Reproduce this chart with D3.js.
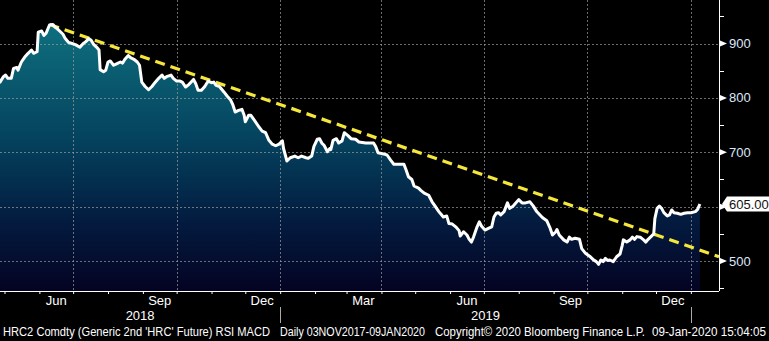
<!DOCTYPE html>
<html>
<head>
<meta charset="utf-8">
<script src="https://cdn.jsdelivr.net/npm/d3@7"></script>
<style>
  html, body { margin: 0; padding: 0; background: #000; }
  svg { display: block; }
  text { font-family: "Liberation Sans", Arial, sans-serif; }
</style>
</head>
<body>
<svg id="chart" width="769" height="341"></svg>
<script>
// HRC2 Comdty, daily closes (USD/short ton)
const dates = [
  "2018-04-24","2018-04-27","2018-04-30","2018-05-02","2018-05-04","2018-05-07","2018-05-09","2018-05-12","2018-05-13",
  "2018-05-16","2018-05-19","2018-05-22","2018-05-25","2018-05-27","2018-05-28","2018-05-30","2018-05-31",
  "2018-06-03","2018-06-05","2018-06-07","2018-06-10","2018-06-13","2018-06-15","2018-06-17","2018-06-19",
  "2018-06-22","2018-06-24","2018-06-27","2018-06-30","2018-07-03","2018-07-07","2018-07-10","2018-07-12",
  "2018-07-15","2018-07-17","2018-07-19","2018-07-22","2018-07-24","2018-07-25","2018-07-28","2018-07-30",
  "2018-08-01","2018-08-03","2018-08-06","2018-08-09","2018-08-12","2018-08-14","2018-08-16","2018-08-19",
  "2018-08-21","2018-08-24","2018-08-27","2018-08-29","2018-08-31","2018-09-03","2018-09-06","2018-09-09",
  "2018-09-12","2018-09-15","2018-09-18","2018-09-20","2018-09-22","2018-09-26","2018-09-28","2018-10-01",
  "2018-10-04","2018-10-06","2018-10-09","2018-10-12","2018-10-16","2018-10-18","2018-10-20","2018-10-23",
  "2018-10-26","2018-10-29","2018-11-01","2018-11-03","2018-11-05","2018-11-08","2018-11-12","2018-11-15",
  "2018-11-18","2018-11-20","2018-11-22","2018-11-25","2018-11-28","2018-11-30","2018-12-01","2018-12-04",
  "2018-12-06","2018-12-09","2018-12-13","2018-12-16","2018-12-19","2018-12-22","2018-12-25","2018-12-28",
  "2018-12-31","2019-01-03","2019-01-04","2019-01-07","2019-01-10","2019-01-14","2019-01-17","2019-01-20",
  "2019-01-24","2019-01-26","2019-01-29","2019-01-31","2019-02-03","2019-02-05","2019-02-07","2019-02-09",
  "2019-02-12","2019-02-14","2019-02-15","2019-02-17","2019-02-20","2019-02-22","2019-02-25","2019-02-27",
  "2019-03-02","2019-03-05","2019-03-09","2019-03-12","2019-03-18","2019-03-25","2019-03-27","2019-03-29",
  "2019-04-03","2019-04-06","2019-04-09","2019-04-12","2019-04-16","2019-04-21","2019-04-23","2019-04-25",
  "2019-04-28","2019-04-30","2019-05-04","2019-05-06","2019-05-09","2019-05-13","2019-05-16","2019-05-19",
  "2019-05-22","2019-05-24","2019-05-26","2019-05-29","2019-05-31","2019-06-03","2019-06-06","2019-06-09",
  "2019-06-10","2019-06-13","2019-06-16","2019-06-18","2019-06-20","2019-06-22","2019-06-25","2019-06-27",
  "2019-06-29","2019-07-02","2019-07-05","2019-07-08","2019-07-10","2019-07-12","2019-07-14","2019-07-16",
  "2019-07-19","2019-07-22","2019-07-24","2019-07-27","2019-07-29","2019-08-01","2019-08-04","2019-08-07",
  "2019-08-11","2019-08-14","2019-08-17","2019-08-22","2019-08-26","2019-08-29","2019-08-31","2019-09-03",
  "2019-09-04","2019-09-06","2019-09-10","2019-09-13","2019-09-15","2019-09-17","2019-09-20","2019-09-24",
  "2019-09-26","2019-09-29","2019-10-03","2019-10-06","2019-10-09","2019-10-11","2019-10-13","2019-10-15",
  "2019-10-17","2019-10-19","2019-10-21","2019-10-24","2019-10-27","2019-10-30","2019-11-01","2019-11-02",
  "2019-11-05","2019-11-08","2019-11-10","2019-11-12","2019-11-14","2019-11-17","2019-11-20","2019-11-22",
  "2019-11-24","2019-11-27","2019-11-29","2019-11-30","2019-12-02","2019-12-04","2019-12-06","2019-12-08",
  "2019-12-11","2019-12-13","2019-12-15","2019-12-17","2019-12-20","2019-12-23","2019-12-26","2019-12-29",
  "2020-01-01","2020-01-05","2020-01-07","2020-01-09"
];
const prices = [
  829,829,839,842,836,836,854,856,851,
  866,875,882,888,882,883,885,921,
  923,915,919,934,935,930,927,923,
  917,909,902,900,898,893,900,903,
  909,906,899,893,888,852,848,851,
  866,868,860,863,866,864,871,878,
  874,871,866,860,829,821,815,821,
  829,836,842,836,839,842,836,831,
  831,829,820,825,834,826,814,814,
  821,831,828,829,823,821,811,803,
  796,787,774,777,779,768,756,768,
  768,759,747,739,736,722,715,712,
  715,721,707,684,690,693,690,693,
  690,689,693,711,724,725,717,713,
  701,707,705,722,725,717,721,736,
  731,725,724,719,717,717,710,699,
  697,695,686,678,678,678,667,655,
  650,638,634,630,625,621,609,600,
  591,586,581,583,569,568,563,556,
  546,554,548,540,535,545,563,572,
  564,557,560,563,581,588,589,585,
  591,607,597,601,606,613,607,607,
  609,601,591,580,574,560,548,554,
  558,548,539,535,544,540,542,540,
  523,515,509,503,499,494,502,499,
  505,501,502,499,508,513,529,539,
  535,539,544,540,545,544,539,535,
  540,546,550,578,597,601,597,589,
  583,585,594,589,588,586,588,589,
  589,591,595,605
];

// Downtrend line drawn from the June 2018 high
const trendDates = ["2018-06-10", "2020-01-26"];
const trendValues = [935, 508];

// Axis ticks and labels
const yTicks = [500, 600, 700, 800, 900];
const yMinorTicks = [450, 550, 650, 750, 850, 950];
const monthLabelDates = ["2018-06", "2018-09", "2018-12", "2019-03", "2019-06", "2019-09", "2019-12"];
const monthLabels = ["Jun", "Sep", "Dec", "Mar", "Jun", "Sep", "Dec"];
const yearLabels = ["2018", "2019"];
const yearStarts = ["2019-01-01", "2020-01-01"];
const lastLabel = "605.00";
const footerParts = [
  "HRC2 Comdty (Generic 2nd 'HRC' Future) RSI MACD",
  "Daily 03NOV2017-09JAN2020",
  "Copyright\u00A9 2020 Bloomberg Finance L.P.",
  "09-Jan-2020 15:04:05"
];
const footerSpans = [[3, 270], [280, 425], [435, 645], [652, 766]];

const parse = d3.timeParse("%Y-%m-%d");
const parseMonth = d3.timeParse("%Y-%m");
const series = dates.map((d, i) => ({ date: parse(d), value: prices[i] }));

const plotW = 719, plotH = 291;
const svg = d3.select("#chart");

const x = d3.scaleTime()
  .domain([parse("2018-04-27"), parse("2020-01-26")])
  .range([0, plotW]);
const y = d3.scaleLinear()
  .domain([445, 980])
  .range([plotH, 0]);

const defs = svg.append("defs");
const grad = defs.append("linearGradient")
  .attr("id", "areaFill")
  .attr("gradientUnits", "userSpaceOnUse")
  .attr("x1", 0).attr("x2", 0)
  .attr("y1", y(935)).attr("y2", plotH);
grad.append("stop").attr("offset", 0).attr("stop-color", "#0e707e");
grad.append("stop").attr("offset", 0.45).attr("stop-color", "#04405c");
grad.append("stop").attr("offset", 0.75).attr("stop-color", "#031a3e");
grad.append("stop").attr("offset", 1).attr("stop-color", "#040323");

defs.append("clipPath").attr("id", "plotClip")
  .append("rect").attr("x", 0).attr("y", 0).attr("width", plotW).attr("height", plotH);

const plot = svg.append("g").attr("clip-path", "url(#plotClip)");

// Price area
plot.append("path")
  .datum(series)
  .attr("fill", "url(#areaFill)")
  .attr("d", d3.area().x(d => x(d.date)).y0(plotH).y1(d => y(d.value)));

// Grid
const quarterStarts = d3.timeMonth.range(parse("2018-05-01"), parse("2020-01-27"))
  .filter(d => d.getMonth() % 3 === 0);
plot.append("g").selectAll("line").data(yTicks).join("line")
  .attr("x1", 0).attr("x2", plotW)
  .attr("y1", d => Math.round(y(d)) + 0.5).attr("y2", d => Math.round(y(d)) + 0.5)
  .attr("stroke", "#9a9a9a").attr("stroke-opacity", 0.7)
  .attr("stroke-dasharray", "2,2");
plot.append("g").selectAll("line").data(quarterStarts).join("line")
  .attr("x1", d => Math.round(x(d)) + 0.5).attr("x2", d => Math.round(x(d)) + 0.5)
  .attr("y1", 0).attr("y2", plotH)
  .attr("stroke", "#9a9a9a").attr("stroke-opacity", 0.7)
  .attr("stroke-dasharray", "2,2");

// Trend line
plot.append("line")
  .attr("x1", x(parse(trendDates[0]))).attr("y1", y(trendValues[0]))
  .attr("x2", x(parse(trendDates[1]))).attr("y2", y(trendValues[1]))
  .attr("stroke", "#f5e63c").attr("stroke-width", 3.2)
  .attr("stroke-dasharray", "10,6");

// Price line
plot.append("path")
  .datum(series)
  .attr("fill", "none")
  .attr("stroke", "#ffffff").attr("stroke-width", 3)
  .attr("stroke-linejoin", "round")
  .attr("d", d3.line().x(d => x(d.date)).y(d => y(d.value)));

// Right axis
const lastY = y(prices[prices.length - 1]);
const right = svg.append("g");
right.append("line")
  .attr("x1", plotW + 0.5).attr("x2", plotW + 0.5)
  .attr("y1", 0).attr("y2", plotH)
  .attr("stroke", "#fff");
right.selectAll(".minor").data(yMinorTicks).join("line")
  .attr("x1", plotW).attr("x2", plotW + 5)
  .attr("y1", d => Math.round(y(d)) + 0.5).attr("y2", d => Math.round(y(d)) + 0.5)
  .attr("stroke", "#fff");
right.selectAll(".arrow").data(yTicks).join("path")
  .attr("d", d => {
    const yy = y(d);
    return `M${plotW + 1},${yy - 3} L${plotW + 8},${yy} L${plotW + 1},${yy + 3} Z`;
  })
  .attr("fill", "#fff");
// tick labels hidden where the last-price tag sits
right.selectAll("text").data(yTicks.filter(d => Math.abs(y(d) - lastY) > 14)).join("text")
  .attr("x", plotW + 10).attr("y", d => y(d))
  .attr("dy", "0.35em")
  .attr("fill", "#dce8fb")
  .attr("font-size", 13)
  .text(d => d);

// Last price tag
svg.append("path")
  .attr("d", `M${plotW + 3},${lastY} L${plotW + 8},${lastY - 7.5} L769,${lastY - 7.5} L769,${lastY + 7.5} L${plotW + 8},${lastY + 7.5} Z`)
  .attr("fill", "#fff");
svg.append("text")
  .attr("x", plotW + 10).attr("y", lastY)
  .attr("dy", "0.35em")
  .attr("fill", "#111")
  .attr("font-size", 13)
  .text(lastLabel);

// Bottom axis: month ticks
const monthTicks = d3.timeMonth.range(parse("2018-05-01"), parse("2020-01-27"));
const bottom = svg.append("g").attr("transform", `translate(0,${plotH})`);
bottom.call(d3.axisBottom(x).tickValues(monthTicks).tickSize(3).tickFormat(""))
  .call(g => g.select(".domain").attr("d", `M0,0.5H${plotW}`).attr("stroke", "#fff"))
  .call(g => g.selectAll(".tick line").attr("stroke", "#fff"));

// Month labels centered in their months
svg.append("g").selectAll("text").data(monthLabelDates).join("text")
  .attr("x", d => { const m = parseMonth(d); return x(new Date(m.getFullYear(), m.getMonth(), 16)); })
  .attr("y", 305)
  .attr("text-anchor", "middle")
  .attr("fill", "#fff")
  .attr("font-size", 13)
  .text((d, i) => monthLabels[i]);

// Year labels centered on each visible year span
const yearSpans = [[0, x(parse(yearStarts[0]))], [x(parse(yearStarts[0])), x(parse(yearStarts[1]))]];
svg.append("g").selectAll("text").data(yearLabels).join("text")
  .attr("x", (d, i) => (yearSpans[i][0] + yearSpans[i][1]) / 2)
  .attr("y", 320)
  .attr("text-anchor", "middle")
  .attr("fill", "#fff")
  .attr("font-size", 13)
  .text(d => d);
svg.append("g").selectAll("line").data(yearStarts).join("line")
  .attr("x1", d => Math.round(x(parse(d))) + 0.5).attr("x2", d => Math.round(x(parse(d))) + 0.5)
  .attr("y1", 307).attr("y2", 323)
  .attr("stroke", "#aaa");

// Footer
svg.append("g").selectAll("text").data(footerParts).join("text")
  .attr("x", (d, i) => footerSpans[i][0]).attr("y", 336)
  .attr("fill", "#fff")
  .attr("font-size", 12)
  .attr("textLength", (d, i) => footerSpans[i][1] - footerSpans[i][0])
  .attr("lengthAdjust", "spacingAndGlyphs")
  .text(d => d);
</script>
</body>
</html>
